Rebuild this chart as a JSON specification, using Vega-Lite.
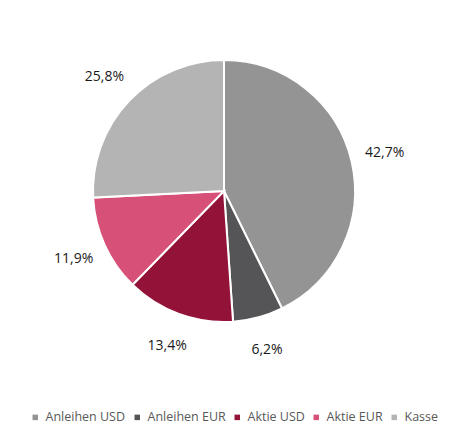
{
  "$schema": "https://vega.github.io/schema/vega-lite/v6.json",
  "width": 448,
  "height": 382,
  "autosize": "pad",
  "padding": 0,
  "background": "white",
  "config": {"view": {"stroke": null}},
  "data": {
    "values": [
      {"idx": 1, "kategorie": "Anleihen USD", "anteil": 42.7, "label": "42,7%"},
      {"idx": 2, "kategorie": "Anleihen EUR", "anteil": 6.2, "label": "6,2%"},
      {"idx": 3, "kategorie": "Aktie USD", "anteil": 13.4, "label": "13,4%"},
      {"idx": 4, "kategorie": "Aktie EUR", "anteil": 11.9, "label": "11,9%"},
      {"idx": 5, "kategorie": "Kasse", "anteil": 25.8, "label": "25,8%"}
    ]
  },
  "encoding": {
    "theta": {"field": "anteil", "type": "quantitative", "stack": true},
    "order": {"field": "idx", "type": "quantitative"}
  },
  "layer": [
    {
      "mark": {"type": "arc", "outerRadius": 131, "stroke": "white", "strokeWidth": 2},
      "encoding": {
        "color": {
          "field": "kategorie",
          "type": "nominal",
          "scale": {
            "domain": ["Anleihen USD", "Anleihen EUR", "Aktie USD", "Aktie EUR", "Kasse"],
            "range": ["#949494", "#555557", "#931238", "#D65077", "#B4B4B4"]
          },
          "legend": {
            "title": null,
            "orient": "none",
            "direction": "horizontal",
            "legendX": 29,
            "legendY": 411,
            "symbolType": "square",
            "symbolSize": 30,
            "symbolStrokeWidth": 0,
            "labelFont": "Open Sans",
            "labelFontSize": 12.5,
            "labelColor": "#595959",
            "labelOffset": 4,
            "columnPadding": 5
          }
        }
      }
    },
    {
      "mark": {"type": "text", "radius": 165, "font": "Open Sans", "fontSize": 14, "color": "#1a1a1a"},
      "encoding": {
        "text": {"field": "label"}
      }
    }
  ]
}
